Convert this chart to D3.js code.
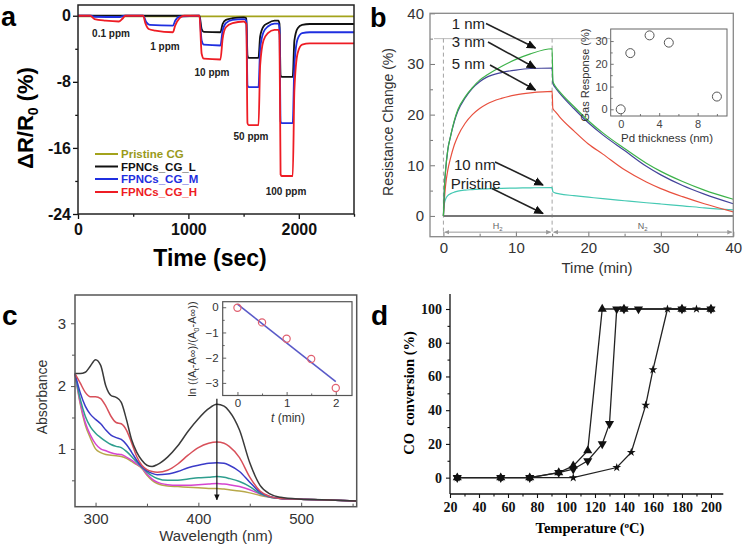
<!DOCTYPE html>
<html><head><meta charset="utf-8">
<script src="https://cdn.jsdelivr.net/npm/d3@7"></script>
<style>body{margin:0;background:#fff;overflow:hidden}</style>
</head><body><svg id="chart" width="746" height="548"></svg>
<script>
// ---------------- DATA ----------------
// Panel a: ΔR/R0 (%) vs time (s)
const aTicksX = [0, 1000, 2000], aMinorX = [500, 1500, 2500];
const aTicksY = [0, -8, -16, -24], aMinorY = [-4, -12, -20];
const aSeriesNames = ['Pristine CG', 'FPNCs_CG_L', 'FPNCs_CG_M', 'FPNCs_CG_H'];
const aConc = ['0.1 ppm', '1 ppm', '10 ppm', '50 ppm', '100 ppm'];
const aPristine = [[0,-0.08],[2500,-0.08]];
const aL = [[0,0],[1100,0],[1120,-1.6],[1140,-1.95],[1290,-2.0],[1310,-1.0],[1340,-0.5],[1400,-0.3],[1500,-0.2],[1525,-0.3],[1535,-4.8],[1545,-5.1],[1635,-5.1],[1650,-2.5],[1680,-1.3],[1720,-0.9],[1780,-0.6],[1815,-0.6],[1825,-1.0],[1835,-7.2],[1845,-7.4],[1945,-7.4],[1960,-3.0],[1990,-1.5],[2030,-1.1],[2100,-1.0],[2500,-1.0]];
const aM = [[0,0],[120,0],[150,-0.12],[380,-0.15],[420,0],[590,0],[620,-0.8],[650,-1.1],[860,-1.2],[880,-0.6],[920,-0.1],[1100,0],[1120,-3.0],[1140,-3.5],[1290,-3.6],[1310,-1.8],[1340,-0.9],[1400,-0.5],[1500,-0.4],[1525,-0.6],[1535,-8.4],[1545,-8.65],[1635,-8.65],[1650,-4.0],[1680,-2.0],[1720,-1.3],[1780,-0.95],[1815,-0.95],[1825,-1.5],[1835,-12.8],[1845,-13.0],[1945,-13.0],[1960,-6.0],[1990,-2.8],[2030,-2.1],[2100,-2.0],[2500,-2.0]];
const aH = [[0,0],[110,0],[150,-0.4],[250,-0.6],[370,-0.7],[400,-0.4],[430,0],[590,0],[610,-0.9],[640,-1.6],[700,-1.8],[860,-2.0],[880,-1.2],[920,-0.3],[960,0],[1100,0],[1120,-4.6],[1140,-5.2],[1290,-5.3],[1310,-2.8],[1340,-1.4],[1400,-0.9],[1500,-0.7],[1525,-1.0],[1535,-13.0],[1545,-13.25],[1635,-13.25],[1650,-6.0],[1680,-3.0],[1720,-2.1],[1780,-1.7],[1815,-1.7],[1825,-2.3],[1835,-19.2],[1845,-19.4],[1945,-19.4],[1960,-9.0],[1990,-4.5],[2030,-3.5],[2100,-3.35],[2500,-3.35]];

// Panel b: resistance change (%) vs time (min)
const bTicks = [0, 10, 20, 30, 40], bMinor = [5, 15, 25, 35];
const bTicksY = [0, 10, 20, 30, 40], bMinorY = [5, 15, 25, 35];
const bT      = [0,0.15,0.3,0.6,1,1.5,2,3,4,5,6,8,10,12,15,15.1,15.5,16,18,20,22,25,28,30,33,36,40];
const b1nm    = [0,6,9,13,15.8,18.8,21,23.5,25.3,26.8,27.8,29.5,30.9,32.0,33.0,26.6,25.5,24.6,21.6,18.8,16.4,13.3,10.4,8.8,6.8,5.1,3.3];
const b3nm    = [0,6,9,13,15.8,18.6,20.7,23.3,25.2,26.5,27.4,28.3,28.8,29.1,29.2,26.2,25.2,24.3,21.2,18.4,16.0,12.9,9.8,8.1,6.0,4.3,2.4];
const b5nm    = [0,3.5,6,9,11.5,14,15.8,18.3,20,21.2,22.1,23.2,23.9,24.3,24.6,21.2,20.5,19.6,16.8,14.2,12.2,9.1,6.7,5.4,3.8,2.4,0.8];
const b10nm   = [0,2.5,3.3,4.0,4.4,4.7,4.9,5.1,5.2,5.3,5.35,5.45,5.5,5.55,5.6,4.8,4.5,4.35,4.0,3.7,3.4,3.0,2.6,2.35,2.0,1.6,1.2];
const bPristine=[0,0,0,0,0,0,0,0,0,0,0,0,0,0,0,0,0,0,0,0,0,0,0,0,0,0,0];
const bLabels = ['1 nm','3 nm','5 nm','10 nm','Pristine'];
// inset b
const biThick = [0, 1, 3, 5, 10];
const biResp  = [0, 24.7, 32.5, 29.3, 5.6];
const biTicksX = [0,4,8], biMinorX=[2,6,10], biTicksY=[0,10,20,30], biMinorY=[5,15,25];

// Panel c: absorbance vs wavelength (nm)
const cW      = [280,285,290,295,300,305,310,315,320,325,330,335,340,345,350,355,360,370,380,390,400,410,418,425,430,440,450,460,470,480,500,520,554];
const cBlack  = [2.2,2.2,2.22,2.32,2.42,2.33,2.0,1.85,1.82,1.74,1.47,1.15,0.95,0.82,0.74,0.72,0.75,0.87,1.05,1.28,1.48,1.64,1.71,1.68,1.6,1.3,0.78,0.42,0.28,0.23,0.2,0.19,0.17];
const cRed    = [2.2,2.05,1.9,1.83,1.83,1.8,1.68,1.52,1.42,1.4,1.3,1.1,0.88,0.74,0.67,0.64,0.63,0.66,0.76,0.9,1.02,1.09,1.11,1.09,1.04,0.86,0.55,0.33,0.24,0.21,0.2,0.19,0.17];
const cBlue   = [2.2,1.9,1.68,1.55,1.47,1.4,1.3,1.22,1.18,1.15,1.07,0.95,0.82,0.72,0.65,0.61,0.59,0.6,0.64,0.7,0.74,0.77,0.78,0.77,0.74,0.64,0.47,0.31,0.24,0.21,0.2,0.19,0.17];
const cTeal   = [2.2,1.8,1.52,1.35,1.25,1.18,1.12,1.07,1.04,1.02,0.96,0.88,0.79,0.71,0.63,0.57,0.53,0.5,0.5,0.52,0.54,0.55,0.56,0.55,0.53,0.48,0.4,0.29,0.23,0.21,0.2,0.19,0.17];
const cMag    = [2.2,1.75,1.42,1.22,1.08,1.0,0.97,0.94,0.92,0.91,0.87,0.82,0.76,0.7,0.6,0.52,0.47,0.43,0.42,0.42,0.43,0.44,0.45,0.44,0.43,0.4,0.35,0.28,0.23,0.21,0.2,0.19,0.17];
const cOlive  = [2.2,1.72,1.38,1.17,1.0,0.94,0.91,0.9,0.89,0.88,0.85,0.8,0.75,0.69,0.58,0.5,0.45,0.41,0.4,0.39,0.38,0.37,0.37,0.36,0.35,0.33,0.3,0.26,0.23,0.21,0.2,0.19,0.17];
const cTicksX = [300,400,500], cMinorX=[350,450,550], cTicksY=[1,2,3], cMinorY=[0.5,1.5,2.5];
const cArrow  = [1.8, 0.19]; // arrow at 418 nm from/to absorbance
// inset c
const ciT   = [0, 0.5, 1, 1.5, 2];
const ciLn  = [-0.02, -0.6, -1.25, -2.05, -3.2];
const ciFitT = [0, 2], ciFitY = [0.12, -2.95];
const ciTicksX=[0,1,2], ciMinorX=[0.5,1.5], ciTicksY=[0,-1,-2,-3], ciMinorY=[-0.5,-1.5,-2.5];

// Panel d: CO conversion (%) vs temperature (°C)
const dTicksX=[20,40,60,80,100,120,140,160,180,200], dMinorX=[30,50,70,90,110,130,150,170,190];
const dTicksY=[0,20,40,60,80,100], dMinorY=[10,30,50,70,90];
const dUpT  = [25,55,75,95,105,115,125,140,180,200];
const dUpV  = [0,0,0,3,7,16,100,100,100,100];
const dDnT  = [25,55,75,95,105,115,125,130,135,140,150,180,200];
const dDnV  = [0,0,0,3,5,10,20,32,100,100,100,100,100];
const dStT  = [25,55,75,105,135,145,155,160,170,180,190,200];
const dStV  = [0,0,0,0,6,15,43,64,100,100,100,100];

// ---------------- DRAW ----------------
const SANS = '"Liberation Sans", Arial, Helvetica, sans-serif';
const SERIF = '"Liberation Serif", "Times New Roman", serif';
const svg = d3.select('#chart');
svg.append('rect').attr('width',746).attr('height',548).attr('fill','#fff');
const defs = svg.append('defs');
function marker(id, color, w){
  defs.append('marker').attr('id',id).attr('viewBox','0 0 10 10').attr('refX',9).attr('refY',5)
    .attr('markerWidth',w).attr('markerHeight',w).attr('orient','auto-start-reverse')
    .append('path').attr('d','M0,0.5L10,5L0,9.5z').attr('fill',color);
}
marker('arB','#111',6); marker('arG','#999',5); marker('arC','#111',5);

function axis(parent, gen, scale, tr, major, minor, o){
  const make=(vals,size,lab)=>{
    const a=gen(scale).tickValues(vals).tickSizeInner(size).tickSizeOuter(0).tickPadding(o.pad);
    a.tickFormat(lab ? (o.fmt||(d=>d)) : ()=>'');
    const g=parent.append('g').attr('transform',tr).call(a);
    g.select('.domain').remove();
    g.selectAll('.tick line').attr('stroke',o.color).attr('stroke-width',o.sw||1);
    g.selectAll('.tick text').attr('fill',o.tcolor||o.color).style('font-family',o.ff)
      .style('font-size',o.fs+'px').style('font-weight',o.fw||'normal');
  };
  make(major,o.size,true);
  if(minor&&minor.length) make(minor,o.minor!==undefined?o.minor:o.size*0.55,false);
}
function txt(p,x,y,s,o){
  const t=p.append('text').attr('x',x).attr('y',y).text(s)
    .style('font-family',o.ff||SANS).style('font-size',(o.fs||12)+'px')
    .style('font-weight',o.fw||'normal').attr('fill',o.fill||'#000')
    .attr('text-anchor',o.anchor||'start');
  if(o.rot) t.attr('transform',`rotate(${o.rot},${x},${y})`);
  return t;
}

// ===== Panel a =====
{
  const g=svg.append('g');
  const x=d3.scaleLinear().domain([0,2500]).range([78,354]);
  const y=d3.scaleLinear().domain([-24,1.3]).range([214,5]);
  const o={color:'#111',ff:SANS,fs:16,fw:'bold',size:5,pad:2,sw:1.3};
  axis(g,d3.axisLeft,y,'translate(78,0)',aTicksY,aMinorY,{...o,pad:2});
  axis(g,d3.axisBottom,x,'translate(0,214)',aTicksX,aMinorX,{...o,pad:5});
  const line=d3.line().x(d=>x(d[0])).y(d=>y(d[1])).curve(d3.curveMonotoneX);
  const cols=['#a3a31c','#111111','#1f2fe0','#ee1c24'];
  [aPristine,aL,aM,aH].forEach((s,i)=>g.append('path').datum(s).attr('d',line)
     .attr('fill','none').attr('stroke',cols[i]).attr('stroke-width',1.8));
  g.append('rect').attr('x',78).attr('y',5).attr('width',276).attr('height',209)
    .attr('fill','none').attr('stroke','#222').attr('stroke-width',1.5);
  // legend
  const ly=[154,166.5,179,192];
  aSeriesNames.forEach((n,i)=>{
    g.append('line').attr('x1',95).attr('x2',118).attr('y1',ly[i]).attr('y2',ly[i]).attr('stroke',cols[i]).attr('stroke-width',2);
    txt(g,121,ly[i]+4,n,{fs:11.5,fw:'bold',fill:i===0?'#9a9a1a':(i===1?'#111':cols[i])});
  });
  const cp=[[111,37],[165,49.5],[212,75.5],[251,140],[286,195]];
  aConc.forEach((c,i)=>txt(g,cp[i][0],cp[i][1],c,{fs:10,fw:'bold',fill:'#222',anchor:'middle'}));
  txt(g,210,266,'Time (sec)',{fs:23,fw:'bold',anchor:'middle'});
  const yl=txt(g,33,118,'ΔR/R',{fs:22,fw:'bold',anchor:'middle',rot:-90});
  yl.append('tspan').attr('dy',5).style('font-size','14px').text('0');
  yl.append('tspan').attr('dy',-5).text(' (%)');
  txt(g,1,26,'a',{fs:27,fw:'bold'});
}

// ===== Panel b =====
{
  const g=svg.append('g');
  const x=d3.scaleLinear().domain([-1.85,40]).range([430,733.3]);
  const y=d3.scaleLinear().domain([-4.1,40]).range([236.7,13.3]);
  const o={color:'#777',tcolor:'#333',ff:SANS,fs:15,size:-5,pad:6,sw:1};
  axis(g,d3.axisLeft,y,'translate(430,0)',bTicksY,bMinorY,{...o,minor:-3});
  axis(g,d3.axisBottom,x,'translate(0,236.7)',bTicks,bMinor,{...o,minor:-3});
  // reference line & dashed guides
  g.append('line').attr('x1',434).attr('x2',610).attr('y1',y(35)).attr('y2',y(35)).attr('stroke','#aaa').attr('stroke-width',0.8);
  [0,15].forEach(t=>g.append('line').attr('x1',x(t)).attr('x2',x(t)).attr('y1',y(35)).attr('y2',y(-3.2))
     .attr('stroke','#999').attr('stroke-width',0.9).attr('stroke-dasharray','4,3'));
  const line=d3.line().x((d,i)=>x(bT[i])).y(d=>y(d)).curve(d3.curveMonotoneX);
  g.append('path').datum(bPristine).attr('d',line).attr('fill','none').attr('stroke','#777').attr('stroke-width',2);
  const ser=[[b10nm,'#45c9b3'],[b5nm,'#e8503e'],[b3nm,'#44449a'],[b1nm,'#3db24a']];
  ser.forEach(s=>g.append('path').datum(s[0]).attr('d',line).attr('fill','none').attr('stroke',s[1]).attr('stroke-width',1.2));
  // H2 / N2 arrows
  const ay=y(-3.2);
  [[0,15,'H'],[15,40,'N']].forEach(r=>{
    g.append('line').attr('x1',x(r[0])+1.5).attr('x2',x(r[1])-1.5).attr('y1',ay).attr('y2',ay)
      .attr('stroke','#999').attr('stroke-width',1).attr('marker-start','url(#arG)').attr('marker-end','url(#arG)');
    const t=txt(g,x((r[0]+r[1])/2),ay-3,r[2],{fs:9,fill:'#666',anchor:'middle'});
    t.append('tspan').attr('dy',2).style('font-size','6px').text('2');
  });
  g.append('rect').attr('x',430).attr('y',13.3).attr('width',303.3).attr('height',223.4)
    .attr('fill','none').attr('stroke','#888').attr('stroke-width',1.3);
  // annotations with arrows
  const ann=[[451.7,28.5,486,23.5,535.5,48],[451.7,47,488,42,535.5,68],[451.7,69,490,65,535.5,90],[454,170,495,162,543,185],[450.7,188.5,492,188.5,543,213.5]];
  bLabels.forEach((l,i)=>{
    const a=ann[i];
    txt(g,a[0],a[1],l,{fs:15,fill:'#222'});
    g.append('line').attr('x1',a[2]).attr('y1',a[3]).attr('x2',a[4]).attr('y2',a[5])
      .attr('stroke','#222').attr('stroke-width',1.6).attr('marker-end','url(#arB)');
  });
  txt(g,597,273,'Time (min)',{fs:15,fill:'#333',anchor:'middle'});
  txt(g,393,122,'Resistance Change (%)',{fs:14,fill:'#333',anchor:'middle',rot:-90});
  txt(g,370,27,'b',{fs:27,fw:'bold'});
  // inset
  const L=610.7, T=29, R=727, B=116;
  const ix=d3.scaleLinear().domain([-1.04,11.05]).range([L,R]);
  const iy=d3.scaleLinear().domain([-2.94,35.3]).range([B,T]);
  g.append('rect').attr('x',L).attr('y',T).attr('width',R-L).attr('height',B-T).attr('fill','#fff');
  const io={color:'#666',tcolor:'#444',ff:SANS,fs:11,size:-3,pad:3,sw:0.9,minor:-2};
  axis(g,d3.axisLeft,iy,`translate(${L},0)`,biTicksY,biMinorY,io);
  axis(g,d3.axisBottom,ix,`translate(0,${B})`,biTicksX,biMinorX,{...io,pad:4});
  g.append('rect').attr('x',L).attr('y',T).attr('width',R-L).attr('height',B-T)
    .attr('fill','none').attr('stroke','#666').attr('stroke-width',1);
  g.selectAll('circle.ib').data(biThick).enter().append('circle')
    .attr('cx',d=>ix(d)).attr('cy',(d,i)=>iy(biResp[i])).attr('r',4.5)
    .attr('fill','#fff').attr('stroke','#555').attr('stroke-width',1);
  txt(g,667,142,'Pd thickness (nm)',{fs:11.5,fill:'#333',anchor:'middle'});
  txt(g,589,75,'Gas Response (%)',{fs:11,fill:'#333',anchor:'middle',rot:-90});
}

// ===== Panel c =====
{
  const g=svg.append('g');
  const x=d3.scaleLinear().domain([280,554]).range([75,356.7]);
  const y=d3.scaleLinear().domain([0.08,3.45]).range([506.7,295]);
  const o={color:'#555',tcolor:'#333',ff:SANS,fs:15,size:4,pad:6,sw:1};
  axis(g,d3.axisLeft,y,'translate(75,0)',cTicksY,cMinorY,{...o,minor:3,pad:5});
  axis(g,d3.axisBottom,x,'translate(0,506.7)',cTicksX,cMinorX,{...o,size:-4,minor:-3,pad:7});
  const line=d3.line().x((d,i)=>x(cW[i])).y(d=>y(d)).curve(d3.curveMonotoneX);
  const ser=[[cOlive,'#b8a84a'],[cMag,'#d545d0'],[cTeal,'#2e9e8e'],[cBlue,'#3a3ac8'],[cRed,'#d8505a'],[cBlack,'#3a3a3a']];
  ser.forEach(s=>g.append('path').datum(s[0]).attr('d',line).attr('fill','none').attr('stroke',s[1]).attr('stroke-width',1.5));
  g.append('line').attr('x1',x(418)).attr('x2',x(418)).attr('y1',y(cArrow[0])).attr('y2',y(cArrow[1]))
    .attr('stroke','#111').attr('stroke-width',1.2).attr('marker-end','url(#arC)');
  g.append('rect').attr('x',75).attr('y',295).attr('width',281.7).attr('height',211.7)
    .attr('fill','none').attr('stroke','#555').attr('stroke-width',1.5);
  txt(g,216,541,'Wavelength (nm)',{fs:15,fill:'#333',anchor:'middle'});
  txt(g,47,397,'Absorbance',{fs:14,fill:'#333',anchor:'middle',rot:-90});
  txt(g,2,325,'c',{fs:28,fw:'bold'});
  // inset
  const ix=d3.scaleLinear().domain([-0.3,2.33]).range([222.7,352]);
  const iy=d3.scaleLinear().domain([-3.5,0.22]).range([395.5,301.7]);
  g.append('rect').attr('x',222.7).attr('y',301.7).attr('width',129.3).attr('height',93.8).attr('fill','#fff');
  const io={color:'#555',tcolor:'#333',ff:SANS,fs:11.5,size:-3.5,pad:4,sw:0.9,minor:-2,fmt:d3.format('d')};
  axis(g,d3.axisLeft,iy,'translate(222.7,0)',ciTicksY,ciMinorY,io);
  axis(g,d3.axisBottom,ix,'translate(0,395.5)',ciTicksX,ciMinorX,{...io,pad:3});
  g.append('line').attr('x1',ix(ciFitT[0])).attr('x2',ix(ciFitT[1])).attr('y1',iy(ciFitY[0])).attr('y2',iy(ciFitY[1]))
    .attr('stroke','#5a5ac8').attr('stroke-width',1.6);
  g.selectAll('circle.ic').data(ciT).enter().append('circle')
    .attr('cx',d=>ix(d)).attr('cy',(d,i)=>iy(ciLn[i])).attr('r',3.6)
    .attr('fill','none').attr('stroke','#e06070').attr('stroke-width',1.2);
  g.append('rect').attr('x',222.7).attr('y',301.7).attr('width',129.3).attr('height',93.8)
    .attr('fill','none').attr('stroke','#555').attr('stroke-width',1.2);
  const yl=txt(g,196,349,'ln ((A',{fs:11,fill:'#333',anchor:'middle',rot:-90});
  yl.append('tspan').attr('dy',2.5).style('font-size','7.5px').text('t');
  yl.append('tspan').attr('dy',-2.5).text('-A∞)/(A');
  yl.append('tspan').attr('dy',2.5).style('font-size','7.5px').text('0');
  yl.append('tspan').attr('dy',-2.5).text('-A∞))');
  const xl=txt(g,288,422,'',{fs:12,fill:'#333',anchor:'middle'});
  xl.append('tspan').style('font-style','italic').text('t');
  xl.append('tspan').text(' (min)');
}

// ===== Panel d =====
{
  const g=svg.append('g');
  const x=d3.scaleLinear().domain([20,208.5]).range([450,723.3]);
  const y=d3.scaleLinear().domain([-9.7,108.9]).range([494,294]);
  const o={color:'#111',ff:SERIF,fs:14,fw:'bold',size:4,pad:3,sw:1.1,minor:2.5};
  axis(g,d3.axisLeft,y,'translate(450,0)',dTicksY,dMinorY,{...o,pad:4});
  axis(g,d3.axisBottom,x,'translate(0,494)',dTicksX,dMinorX,{...o,pad:4});
  g.append('line').attr('x1',450).attr('x2',450).attr('y1',294).attr('y2',494).attr('stroke','#111').attr('stroke-width',1.3);
  g.append('line').attr('x1',450).attr('x2',723.3).attr('y1',494).attr('y2',494).attr('stroke','#111').attr('stroke-width',1.3);
  const mk=(T,V)=>d3.line().x((d,i)=>x(T[i])).y((d,i)=>y(V[i]))(T);
  [[dUpT,dUpV],[dDnT,dDnV],[dStT,dStV]].forEach(s=>g.append('path').attr('d',mk(s[0],s[1]))
     .attr('fill','none').attr('stroke','#222').attr('stroke-width',1.3));
  const sym=(type,sz,rot)=>(T,V)=>g.selectAll(null).data(T).enter().append('path')
     .attr('d',d3.symbol().type(type).size(sz)())
     .attr('transform',(d,i)=>`translate(${x(d)},${y(V[i])}) rotate(${rot})`).attr('fill','#111');
  sym(d3.symbolTriangle,36,0)(dUpT,dUpV);
  sym(d3.symbolTriangle,36,180)(dDnT,dDnV);
  sym(d3.symbolStar,24,0)(dStT,dStV);
  const xl=txt(g,590,533,'Temperature (',{ff:SERIF,fs:14.5,fw:'bold',anchor:'middle'});
  xl.append('tspan').attr('dy',-5).style('font-size','9px').text('o');
  xl.append('tspan').attr('dy',5).text('C)');
  txt(g,414,393,'CO  conversion (%)',{ff:SERIF,fs:14.5,fw:'bold',anchor:'middle',rot:-90}).style('white-space','pre');
  txt(g,371,325,'d',{fs:28,fw:'bold'});
}
</script></body></html>
